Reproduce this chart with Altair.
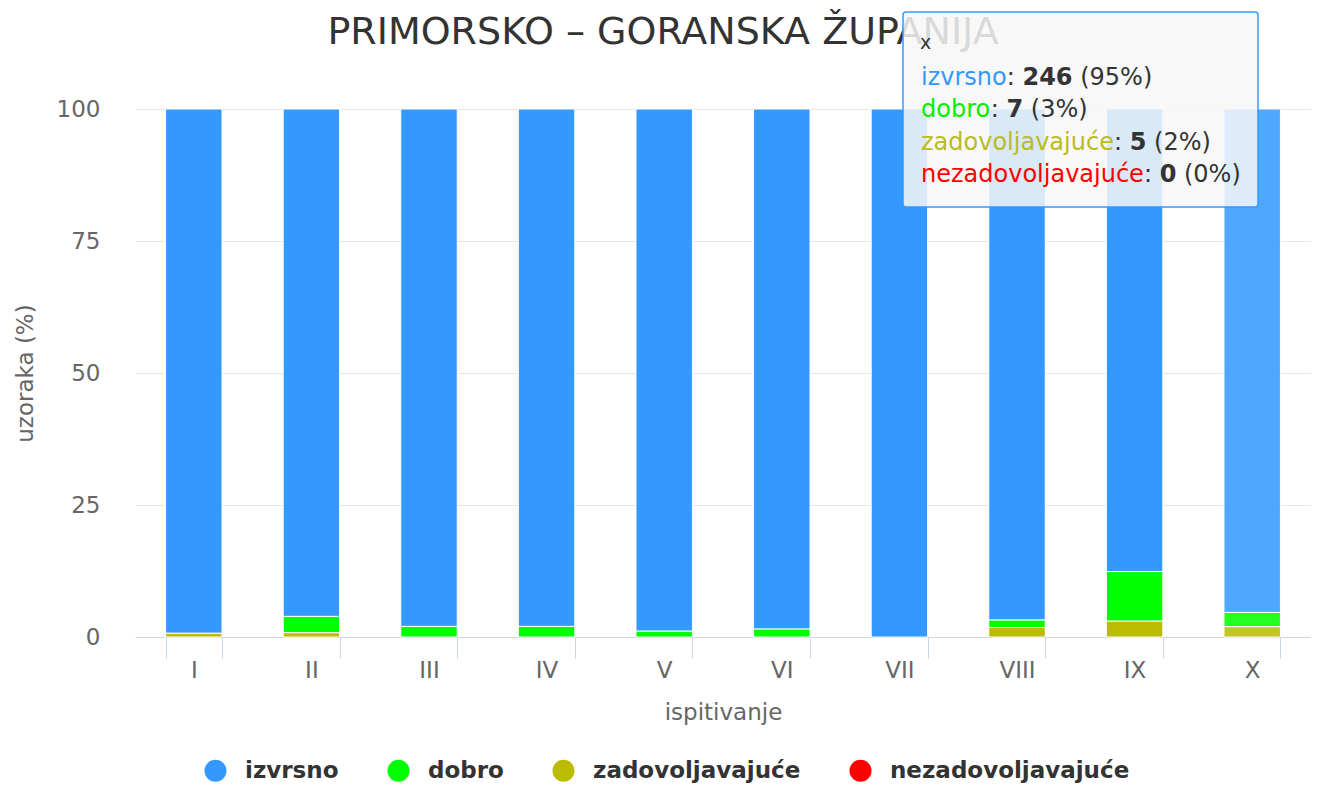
import altair as alt
import pandas as pd

categories = ["I", "II", "III", "IV", "V", "VI", "VII", "VIII", "IX", "X"]
series_names = ["izvrsno", "dobro", "zadovoljavajuće", "nezadovoljavajuće"]
series_colors = ["#3399FF", "#00FF00", "#BBBB00", "#FF0000"]
izvrsno = [99.3, 96.1, 98.0, 98.0, 98.9, 98.5, 100.0, 96.8, 87.6, 95.35]
dobro = [0.0, 3.1, 2.0, 2.0, 1.1, 1.5, 0.0, 1.4, 9.4, 2.71]
zadovoljavajuce = [0.7, 0.8, 0.0, 0.0, 0.0, 0.0, 0.0, 1.8, 3.0, 1.94]
nezadovoljavajuce = [0.0] * 10

title_text = "PRIMORSKO – GORANSKA ŽUPANIJA"
hover_category = "X"
tooltip_counts = [246, 7, 5, 0]
tooltip_pcts = ["(95%)", "(3%)", "(2%)", "(0%)"]

FONT = "DejaVu Sans"

# approximate DejaVu Sans advance widths (em) for laying out the tooltip pieces
REG = {"a": .613, "b": .635, "c": .550, "ć": .550, "d": .635, "e": .615, "i": .278, "j": .278,
       "l": .278, "n": .634, "o": .612, "r": .411, "s": .521, "u": .634, "v": .592, "z": .525,
       ":": .337, " ": .318, "(": .390, ")": .390, "%": .950}
for dgt in "0123456789":
    REG[dgt] = .636
BOLD_DIGIT = .696


def text_w(s, size):
    return sum(REG.get(ch, .6) for ch in s) * size


rows = []
for s_i, (name, vals) in enumerate(zip(series_names, [izvrsno, dobro, zadovoljavajuce, nezadovoljavajuce])):
    for c, v in zip(categories, vals):
        if v > 0:
            rows.append({"cat": c, "series": name, "value": v, "ord": 3 - s_i})
df = pd.DataFrame(rows)

W, H = 1176, 528

bars = alt.Chart(df).mark_bar(stroke="white", strokeWidth=1).encode(
    x=alt.X("cat:N", sort=categories,
            scale=alt.Scale(paddingInner=0.52, paddingOuter=0.26),
            axis=alt.Axis(title="ispitivanje", labelAngle=0, labelFontSize=23, labelColor="#666666",
                          labelFont=FONT, titleFont=FONT, titleFontSize=23, titleFontWeight="normal",
                          titleColor="#666666", domainColor="#ccd6eb", tickColor="#ccd6eb",
                          tickSize=21, tickBand="extent", labelPadding=1, titlePadding=19, grid=False)),
    y=alt.Y("value:Q", stack="zero", scale=alt.Scale(domain=[0, 100], nice=False),
            axis=alt.Axis(title="uzoraka (%)", values=[0, 25, 50, 75, 100], labelFontSize=23,
                          labelColor="#666666", labelFont=FONT, titleFont=FONT, titleFontSize=23,
                          titleFontWeight="normal", titleColor="#666666", domain=False, ticks=False,
                          labelPadding=35, titlePadding=19, gridColor="#e6e6e6")),
    color=alt.Color("series:N", sort=series_names,
                    scale=alt.Scale(domain=series_names, range=series_colors),
                    legend=alt.Legend(title=None, orient="none", legendX=69, legendY=650,
                                      direction="horizontal", symbolType="circle", symbolSize=484,
                                      symbolStrokeWidth=0, labelFontSize=23, labelFontWeight="bold",
                                      labelColor="#333333", labelFont=FONT, labelOffset=18,
                                      labelLimit=0, columnPadding=48, symbolOpacity=1)),
    order=alt.Order("ord:Q", sort="ascending"),
    opacity=alt.condition(alt.datum.cat == hover_category, alt.value(0.86), alt.value(1.0)),
)

one = pd.DataFrame({"a": [0]})

title = alt.Chart(one).mark_text(fontSize=38, font=FONT, color="#333333", align="center",
                                 baseline="middle").encode(
    x=alt.value(528), y=alt.value(-76), text=alt.value(title_text))

layers = [bars, title]

# tooltip box (hover state shown in the reference)
box = alt.Chart(one).mark_rect(fill="#f7f7f7", fillOpacity=0.85, stroke="#3399FF",
                               strokeWidth=1.5, cornerRadius=3).encode(
    x=alt.value(768), x2=alt.value(1123), y=alt.value(-97), y2=alt.value(98))
layers.append(box)
layers.append(alt.Chart(one).mark_text(fontSize=19, font=FONT, color="#333333", align="left",
                                       baseline="alphabetic").encode(
    x=alt.value(785), y=alt.value(-60), text=alt.value("x")))

TS = 24
line_y = [-24, 8, 41, 73]
label_colors = ["#3399FF", "#00EE00", "#BBBB22", "#FF0000"]
for i, name in enumerate(series_names):
    y = line_y[i]
    x = 786
    layers.append(alt.Chart(one).mark_text(fontSize=TS, font=FONT, color=label_colors[i],
                                           align="left", baseline="alphabetic").encode(
        x=alt.value(x), y=alt.value(y), text=alt.value(name)))
    x += text_w(name, TS)
    layers.append(alt.Chart(one).mark_text(fontSize=TS, font=FONT, color="#333333", align="left",
                                           baseline="alphabetic").encode(
        x=alt.value(x), y=alt.value(y), text=alt.value(":")))
    x += text_w(": ", TS)
    val = str(tooltip_counts[i])
    layers.append(alt.Chart(one).mark_text(fontSize=TS, font=FONT, color="#333333", align="left",
                                           fontWeight="bold", baseline="alphabetic").encode(
        x=alt.value(x), y=alt.value(y), text=alt.value(val)))
    x += BOLD_DIGIT * TS * len(val) + text_w(" ", TS)
    layers.append(alt.Chart(one).mark_text(fontSize=TS, font=FONT, color="#333333", align="left",
                                           baseline="alphabetic").encode(
        x=alt.value(x), y=alt.value(y), text=alt.value(tooltip_pcts[i])))

chart = alt.layer(*layers).properties(
    width=W, height=H,
    autosize=alt.AutoSizeParams(type="none"),
    padding={"left": 127, "top": 101, "right": 0, "bottom": 150},
).configure_view(stroke=None).configure_axis(labelFont=FONT, titleFont=FONT)

chart.save("out.html", embed_options={"renderer": "svg", "actions": False})
